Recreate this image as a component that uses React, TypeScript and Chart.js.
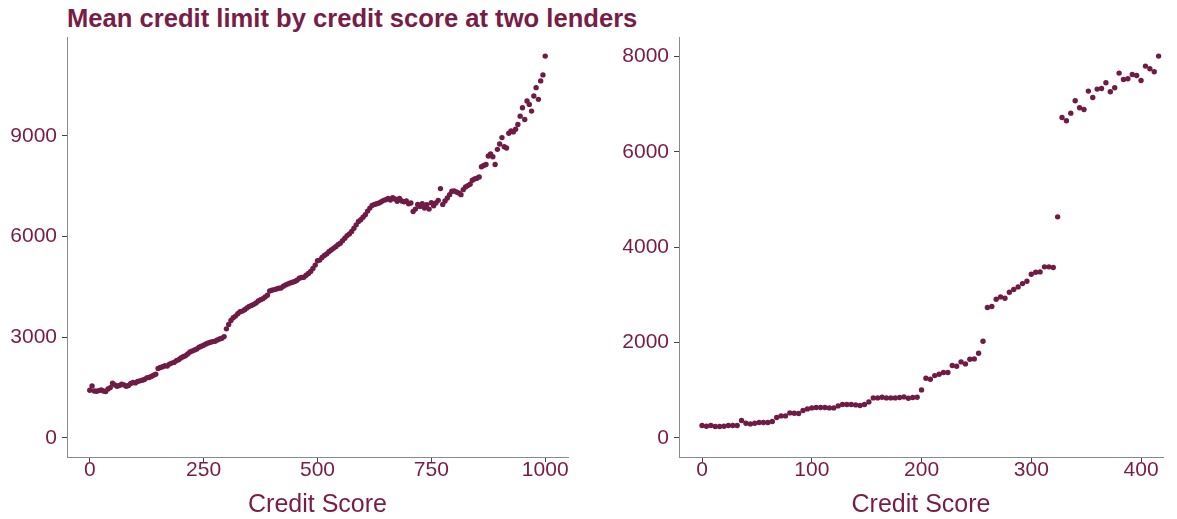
import React, { useEffect, useRef } from 'react';
import { Chart, registerables } from 'chart.js';

Chart.register(...registerables);

const TITLE = 'Mean credit limit by credit score at two lenders';
const X_LABEL = 'Credit Score';

// Lender 1: mean credit limit per credit-score bin (bins every 5 points, 0..1000)
const LEFT_STEP = 5;
const leftLimits = [
  1420, 1550, 1400, 1390, 1410, 1430, 1400, 1380, 1460, 1500,
  1630, 1580, 1540, 1560, 1600, 1580, 1540, 1560, 1620, 1650,
  1640, 1680, 1700, 1720, 1740, 1790, 1800, 1830, 1870, 1900,
  2070, 2100, 2120, 2150, 2140, 2200, 2230, 2250, 2300, 2330,
  2380, 2420, 2450, 2500, 2560, 2590, 2620, 2650, 2700, 2730,
  2760, 2800, 2830, 2850, 2870, 2880, 2920, 2950, 2970, 3020,
  3250, 3380, 3500, 3580, 3630, 3700, 3760, 3780, 3820, 3870,
  3920, 3950, 3980, 4020, 4080, 4120, 4150, 4200, 4250, 4380,
  4400, 4420, 4440, 4460, 4470, 4520, 4560, 4590, 4620, 4640,
  4660, 4700, 4760, 4780, 4790, 4850, 4900, 4960, 5050, 5150,
  5280, 5300, 5380, 5440, 5480, 5550, 5600, 5650, 5700, 5760,
  5800, 5880, 5950, 6030, 6080, 6150, 6250, 6350, 6450, 6500,
  6580, 6650, 6760, 6850, 6930, 6960, 6980, 7000, 7040, 7080,
  7100, 7140, 7090, 7160, 7120, 7050, 7140, 7060, 7040, 7060,
  6980, 7000, 6750, 6820, 6960, 6900, 6980, 6850, 6950, 6820,
  7010, 6920, 7000, 7080, 7430, 6960, 7060, 7150, 7250, 7350,
  7360, 7330, 7300, 7250, 7400, 7480, 7520, 7560, 7680, 7720,
  7740, 7780, 8080, 8120, 8150, 8400, 8460, 8380, 8150, 8600,
  8760, 8950, 8680, 8640, 9080, 9150, 9120, 9200, 9340, 9590,
  9840, 9490, 10040, 9940, 9740, 10190, 10440, 10090, 10640, 10820,
  11380,
];
const leftXTicks = [0, 250, 500, 750, 1000];
const leftYTicks = [0, 3000, 6000, 9000];

// Lender 2: mean credit limit per credit-score bin (bins every 4 points, 0..416)
const RIGHT_STEP = 4;
const rightLimits = [
  259, 245, 259, 238, 238, 245, 259, 259, 259, 364,
  308, 294, 308, 322, 322, 322, 343, 427, 462, 462,
  525, 518, 511, 574, 609, 630, 637, 637, 637, 630,
  630, 672, 700, 700, 700, 693, 679, 700, 756, 840,
  840, 854, 840, 840, 840, 847, 861, 833, 847, 854,
  1007, 1253, 1232, 1308, 1336, 1371, 1371, 1518, 1504, 1595,
  1553, 1651, 1658, 1777, 2029, 2735, 2756, 2910, 2959, 2931,
  3057, 3113, 3169, 3238, 3288, 3435, 3477, 3484, 3589, 3589,
  3575, 4639, 6723, 6654, 6815, 7074, 6927, 6892, 7277, 7144,
  7319, 7333, 7452, 7263, 7347, 7655, 7522, 7536, 7627, 7606,
  7500, 7802, 7746, 7683, 8012,
];
const rightXTicks = [0, 100, 200, 300, 400];
const rightYTicks = [0, 2000, 4000, 6000, 8000];
const rightXRange = [-21, 420];

const TEXT_COLOR = '#781c48';
const POINT_COLOR = '#701a46';
const AXIS_COLOR = '#8a8a8a';
const TICK_COLOR = '#444444';
const FONT = "'Liberation Sans', Arial, Helvetica, sans-serif";
const H = 519;

type PanelProps = {
  values: number[];
  step: number;
  xTicks: number[];
  yTicks: number[];
  xRange?: number[];
  left: number;
  width: number;
  yAxisWidth: number;
  padRight: number;
};

function Panel({ values, step, xTicks, yTicks, xRange, left, width, yAxisWidth, padRight }: PanelProps) {
  const ref = useRef<HTMLCanvasElement | null>(null);

  useEffect(() => {
    if (!ref.current) return;
    const points = values.map((v, i) => ({ x: i * step, y: v }));
    const xs = points.map((p) => p.x);
    const xLo = Math.min(...xs);
    const xHi = Math.max(...xs);
    const xr = xHi - xLo;
    const yLo = Math.min(0, ...values);
    const yHi = Math.max(...values);
    const yr = yHi - yLo;
    const xMin = xRange ? xRange[0] : xLo - 0.05 * xr;
    const xMax = xRange ? xRange[1] : xHi + 0.05 * xr;

    const chart = new Chart(ref.current, {
      type: 'scatter',
      data: {
        datasets: [
          {
            data: points,
            backgroundColor: POINT_COLOR,
            borderWidth: 0,
            pointRadius: 2.7,
          },
        ],
      },
      options: {
        animation: false,
        responsive: false,
        maintainAspectRatio: false,
        layout: { padding: { top: 37, right: padRight, left: 0, bottom: 0 } },
        plugins: { legend: { display: false }, tooltip: { enabled: false }, title: { display: false } },
        scales: {
          x: {
            type: 'linear',
            min: xMin,
            max: xMax,
            afterBuildTicks: (s: any) => {
              s.ticks = xTicks.map((v) => ({ value: v }));
            },
            afterFit: (s: any) => {
              s.height = 62;
            },
            grid: { drawOnChartArea: false, drawTicks: true, tickLength: 5, color: TICK_COLOR },
            border: { display: true, color: AXIS_COLOR, width: 1 },
            ticks: {
              color: TEXT_COLOR,
              font: { family: FONT, size: 21 },
              padding: -4,
              maxRotation: 0,
              autoSkip: false,
              callback: (v: any) => String(v),
            },
            title: {
              display: true,
              text: X_LABEL,
              color: TEXT_COLOR,
              font: { family: FONT, size: 25, lineHeight: 1 },
              padding: { top: 0, bottom: 1 },
            },
          },
          y: {
            type: 'linear',
            min: yLo - 0.05 * yr,
            max: yHi + 0.05 * yr,
            afterBuildTicks: (s: any) => {
              s.ticks = yTicks.map((v) => ({ value: v }));
            },
            afterFit: (s: any) => {
              s.width = yAxisWidth;
            },
            grid: { drawOnChartArea: false, drawTicks: true, tickLength: 5, color: TICK_COLOR },
            border: { display: true, color: AXIS_COLOR, width: 1 },
            ticks: {
              color: TEXT_COLOR,
              font: { family: FONT, size: 21 },
              padding: 5,
              autoSkip: false,
              callback: (v: any) => String(v),
            },
          },
        },
      },
    } as any);
    return () => chart.destroy();
  }, [values, step, xTicks, yTicks, xRange, yAxisWidth, padRight]);

  return (
    <canvas
      ref={ref}
      width={width}
      height={H}
      style={{ position: 'absolute', left, top: 0, width, height: H, display: 'block' }}
    />
  );
}

export default function App() {
  return (
    <div
      style={{
        position: 'absolute',
        left: 0,
        top: 0,
        width: 1177,
        height: H,
        background: '#ffffff',
        overflow: 'hidden',
      }}
    >
      <div
        style={{
          position: 'absolute',
          left: 67,
          top: 5,
          fontFamily: FONT,
          fontWeight: 'bold',
          fontSize: 25.6,
          lineHeight: '26px',
          color: TEXT_COLOR,
          whiteSpace: 'nowrap',
        }}
      >
        {TITLE}
      </div>
      <Panel
        values={leftLimits}
        step={LEFT_STEP}
        xTicks={leftXTicks}
        yTicks={leftYTicks}
        left={0}
        width={600}
        yAxisWidth={67}
        padRight={32}
      />
      <Panel
        values={rightLimits}
        step={RIGHT_STEP}
        xTicks={rightXTicks}
        yTicks={rightYTicks}
        xRange={rightXRange}
        left={600}
        width={577}
        yAxisWidth={79}
        padRight={14}
      />
    </div>
  );
}
